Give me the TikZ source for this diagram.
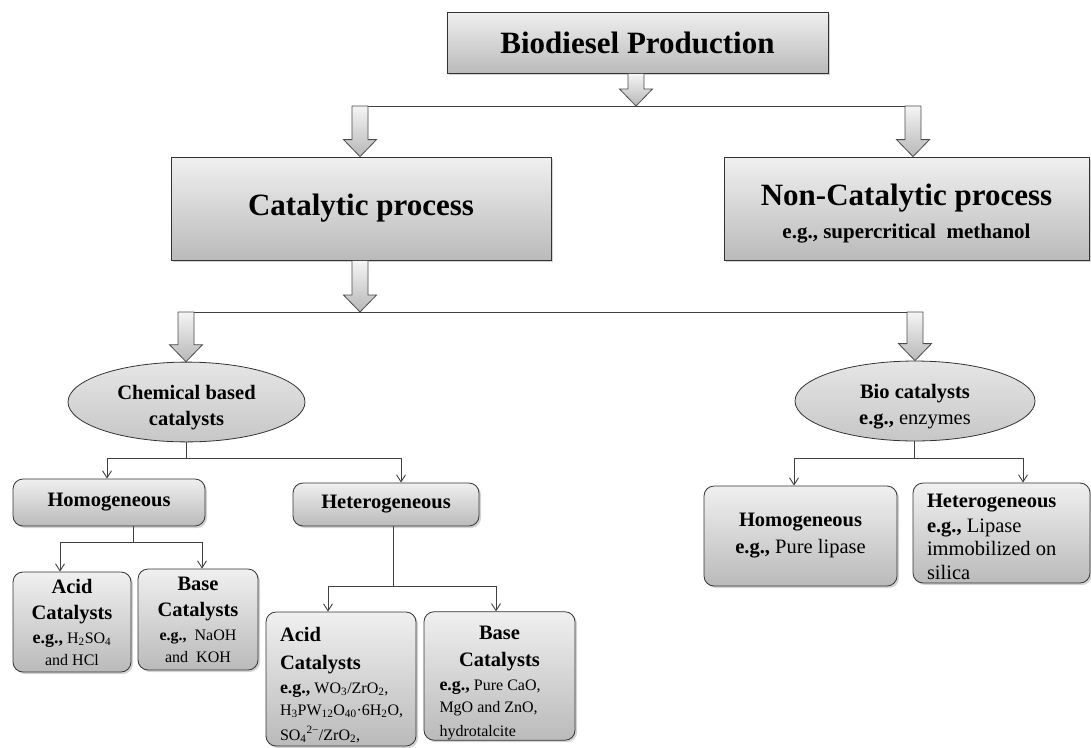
\documentclass[tikz,border=0pt]{standalone}
\usepackage{fontspec}
\setmainfont{Liberation Serif}
\usetikzlibrary{calc,shapes.geometric,shadows,arrows.meta}
\def\blockarrow(#1)(#2){\draw[blockarr] let \p1=(#1), \p2=(#2) in (\x1-8pt,\y1) -- (\x1+8pt,\y1) -- (\x1+8pt,\y2+17pt) -- (\x1+16.5pt,\y2+17pt) -- (\x1,\y2) -- (\x1-16.5pt,\y2+17pt) -- (\x1-8pt,\y2+17pt) -- cycle;}
\newcommand{\hugetxt}{\fontsize{31}{36}\selectfont\bfseries}
\newcommand{\bigtxt}{\fontsize{20.5}{26}\selectfont\bfseries}
\newcommand{\midrm}{\fontsize{20.5}{24}\selectfont\mdseries\spaceskip=0pt\xspaceskip=0pt\relax}
\newcommand{\midbf}{\fontsize{21}{26}\selectfont\bfseries}
\newcommand{\smalltxt}{\fontsize{16}{21}\selectfont\mdseries\spaceskip=0pt\xspaceskip=0pt\relax}
\newcommand{\eg}{\textbf{\fontsize{18}{21}\selectfont e.g.,}}
\newcommand{\lift}[1]{\rule{0pt}{#1}}
\tikzset{
	box/.style={draw=black!80, line width=0.8pt, top color=black!6, bottom color=black!27, drop shadow={opacity=0.35, shadow xshift=2pt, shadow yshift=-2pt}, inner sep=0pt, align=center},
	roundbox/.style={box, rounded corners=10pt, font=\bigtxt},
	oval/.style={ellipse, draw=black!80, line width=0.8pt, top color=black!10, bottom color=black!22, inner sep=0pt, align=center, font=\bigtxt},
	conn/.style={draw=black!75, line width=0.9pt},
	arrowline/.style={conn, -{Straight Barb[length=7pt,width=9pt]}},
	blockarr/.style={draw=black!70, line width=0.8pt, top color=black!4, bottom color=black!28}
}
\begin{document}
\begin{tikzpicture}[x=1pt,y=-1pt]
			%%%%% START %%%%%
			\useasboundingbox (0,0) rectangle (1091,747);
			
			% top level
			\node[box, font=\hugetxt, minimum width=381pt, minimum height=61pt] (title) at (637.5,42.5) {Biodiesel Production};
			\node[box, font=\hugetxt, minimum width=380pt, minimum height=103pt] (cat) at (361,208.5) {Catalytic process};
			\node[box, font=\hugetxt, minimum width=365pt, minimum height=103pt] (noncat) at (906.5,208.5) {\lift{32pt}Non-Catalytic process\\[-3pt]\midbf e.g., supercritical\ \ methanol};
			
			\node[oval, minimum width=237pt, minimum height=78pt] (chem) at (186.5,402) {\lift{26pt}Chemical based\\catalysts};
			\node[oval, minimum width=240pt, minimum height=78pt] (bio) at (915,401) {\lift{26pt}Bio catalysts\\\midrm\textbf{e.g.,} enzymes};
			
			% chemical branch
			\node[roundbox, minimum width=192pt, minimum height=47pt] (homo1) at (109,502.5) {Homogeneous};
			\node[roundbox, minimum width=186pt, minimum height=43pt] (hetero1) at (386,504.5) {Heterogeneous};
			\node[roundbox, minimum width=118pt, minimum height=100pt] (acid1) at (72,622) {Acid\\Catalysts\\[-2pt]\smalltxt\eg\ H\textsubscript{2}SO\textsubscript{4}\\[-4pt]\smalltxt and HCl};
			\node[roundbox, minimum width=120pt, minimum height=101pt] (base1) at (198,619.5) {Base\\Catalysts\\[-2pt]\smalltxt\textbf{e.g.,}\ \ NaOH\\[-4pt]\smalltxt and\ \ KOH};
			\node[roundbox, minimum width=150pt, minimum height=134pt, text width=122pt, align=left] (acid2) at (341,679) {\lift{26pt}Acid\\[2pt]Catalysts\\[3pt]\smalltxt\eg\ WO\textsubscript{3}/ZrO\textsubscript{2},\\[1pt]H\textsubscript{3}PW\textsubscript{12}O\textsubscript{40}·6H\textsubscript{2}O,\\[-1pt]SO\textsubscript{4}\textsuperscript{2−}/ZrO\textsubscript{2},};
			\node[roundbox, minimum width=151pt, minimum height=128pt, text width=120pt, align=left] (base2) at (499.5,676) {\lift{28pt}\makebox[\linewidth]{Base}\\[1pt]\makebox[\linewidth]{Catalysts}\\[3pt]\smalltxt\eg\ Pure CaO,\\[1pt]MgO and ZnO,\\[-2pt]hydrotalcite};
			
			% bio branch
			\node[roundbox, minimum width=193pt, minimum height=100pt] (homo2) at (800.5,536) {Homogeneous\\[1pt]\midrm\textbf{e.g.,} Pure lipase};
			\node[roundbox, minimum width=177pt, minimum height=100pt, text width=149pt, align=left] (hetero2) at (1001.5,533) {\lift{22pt}Heterogeneous\\[1pt]\midrm\textbf{e.g.,} Lipase\\[-1pt]immobilized on\\[-2pt]silica};
			
			% block arrows
			\coordinate (top) at (636,106);
			\coordinate (catin) at (360,106);
			\coordinate (ncin) at (913,106);
			\draw[conn] ($(catin)+(-8,0)$) -- ($(ncin)+(8,0)$);
			\blockarrow(title.south -| top)(top)
			\blockarrow(catin)(cat.north -| catin)
			\blockarrow(ncin)(noncat.north -| ncin)
			
			\coordinate (mid) at (360,312);
			\coordinate (chemin) at (186,312);
			\coordinate (bioin) at (915,312);
			\draw[conn] ($(chemin)+(-8,0)$) -- ($(bioin)+(8,0)$);
			\blockarrow(cat.south -| mid)(mid)
			\blockarrow(chemin)(chem.north -| chemin)
			\blockarrow(bioin)(bio.north -| bioin)
			
			% thin connectors
			\draw[conn] (chem.south) -- ++(0,16) coordinate (chemfork);
			\draw[arrowline] (chemfork) -| ($(homo1.north)+(-2,0)$);
			\draw[arrowline] (chemfork) -| ($(hetero1.north)+(15,0)$);
			
			\draw[conn] ($(homo1.south)+(24,0)$) -- ++(0,16) coordinate (homofork);
			\draw[arrowline] (homofork) -| ($(acid1.north)+(-12,0)$);
			\draw[arrowline] (homofork) -| ($(base1.north)+(4,0)$);
			
			\draw[conn] ($(hetero1.south)+(7,0)$) -- ++(0,60) coordinate (hetfork);
			\draw[arrowline] (hetfork) -| ($(acid2.north)+(-13,0)$);
			\draw[arrowline] (hetfork) -| ($(base2.north)+(-3.5,0)$);
			
			\draw[conn] ($(bio.south)+(-1,0)$) -- ++(0,17) coordinate (biofork);
			\draw[arrowline] (biofork) -| ($(homo2.north)+(-6.5,0)$);
			\draw[arrowline] (biofork) -| ($(hetero2.north)+(21.5,0)$);
			
			%%%%% END %%%%%
\end{tikzpicture}
\end{document}
